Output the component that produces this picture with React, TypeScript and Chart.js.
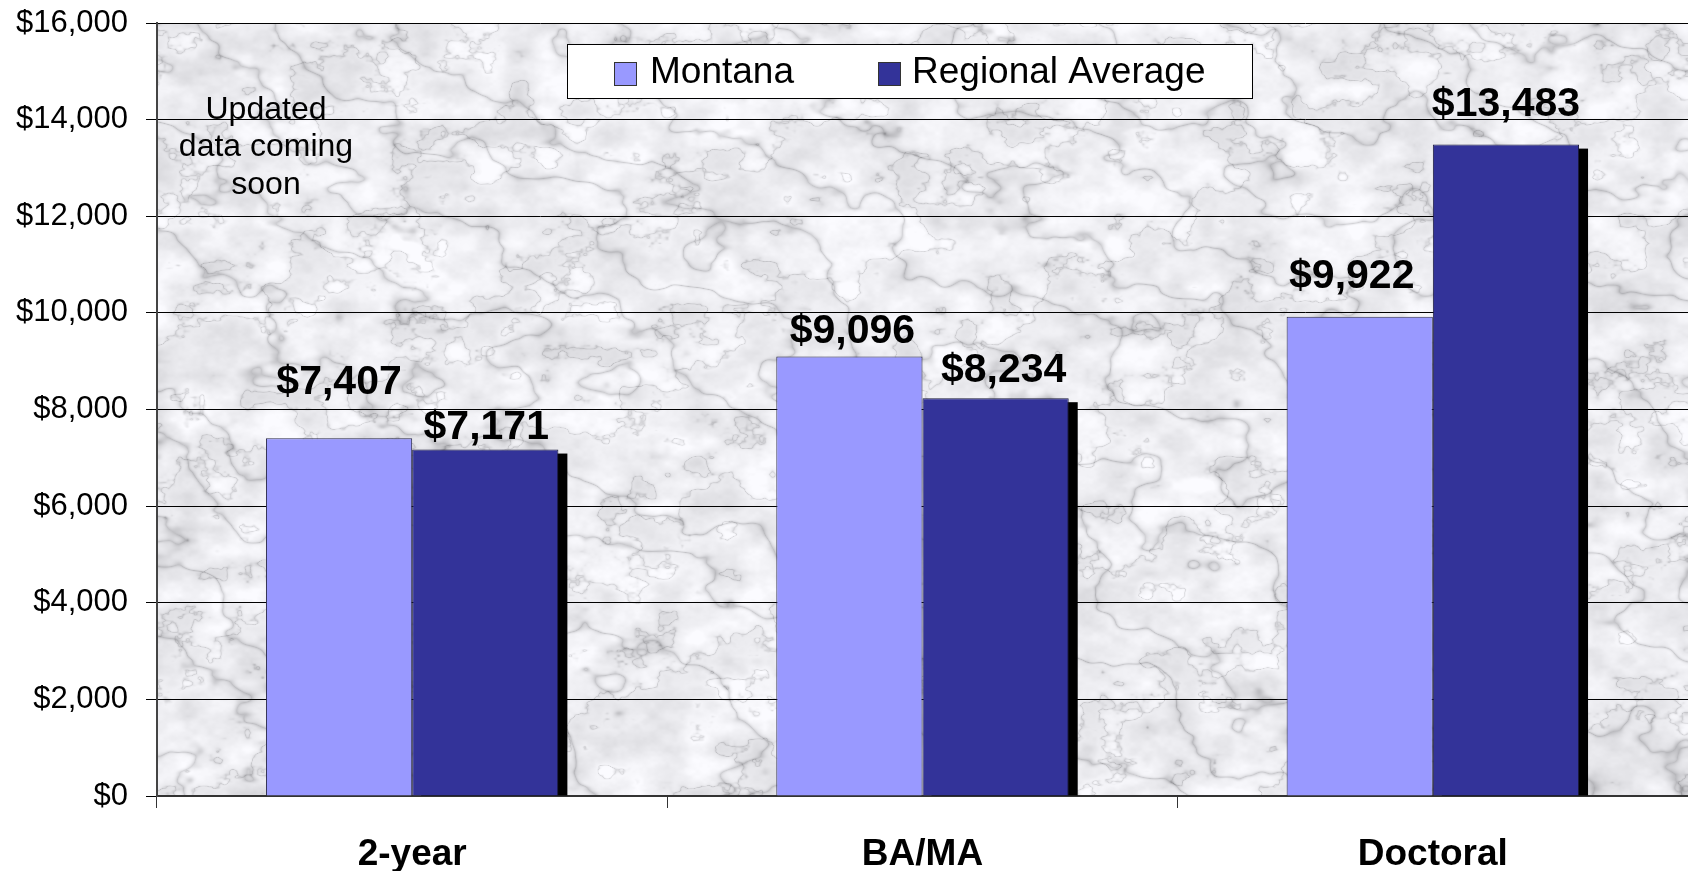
import React, { useEffect, useRef } from "react";
import { Chart, registerables } from "chart.js";

Chart.register(...registerables);

const categories = ["2-year", "BA/MA", "Doctoral"];
const seriesNames = ["Montana", "Regional Average"];
const montanaValues = [7407, 9096, 9922];
const regionalValues = [7171, 8234, 13483];
const yMax = 16000;
const yStep = 2000;
const noteLines = ["Updated", "data coming", "soon"];

// label placement (style only): gap above bar top and small horizontal nudge
const montanaLabelGap = [55, 25, 40];
const regionalLabelGap = [22, 28, 40];
const montanaLabelDx = [0, 3, -8];
const regionalLabelDx = [1, 8, 0];

const FONT = "'Liberation Sans', Arial, Helvetica, sans-serif";

function makeMarble(w: number, h: number): HTMLCanvasElement {
  const c = document.createElement("canvas");
  c.width = w;
  c.height = h;
  const ctx = c.getContext("2d")!;
  const img = ctx.createImageData(w, h);
  const N = 128;
  const lat = new Float32Array(N * N);
  for (let j = 0; j < N; j++)
    for (let i = 0; i < N; i++) {
      const s = Math.sin(i * 127.1 + j * 311.7) * 43758.5453;
      lat[j * N + i] = s - Math.floor(s);
    }
  const noise = (x: number, y: number) => {
    const xi = Math.floor(x), yi = Math.floor(y);
    const fx = x - xi, fy = y - yi;
    const ux = fx * fx * (3 - 2 * fx), uy = fy * fy * (3 - 2 * fy);
    const x0 = ((xi % N) + N) % N, y0 = ((yi % N) + N) % N;
    const x1 = (x0 + 1) % N, y1 = (y0 + 1) % N;
    const a = lat[y0 * N + x0], b = lat[y0 * N + x1];
    const cc = lat[y1 * N + x0], d = lat[y1 * N + x1];
    return a + (b - a) * ux + (cc - a) * uy + (a - b - cc + d) * ux * uy;
  };
  const fbm = (x: number, y: number) => {
    let v = 0, amp = 0.5, f = 1;
    for (let o = 0; o < 4; o++) {
      v += amp * noise(x * f, y * f);
      amp *= 0.5;
      f *= 2;
    }
    return v;
  };
  const d = img.data;
  for (let y = 0; y < h; y++) {
    for (let x = 0; x < w; x++) {
      const n = fbm(x / 90, y / 60);
      const n2 = fbm(x / 30 + 50, y / 22 + 20);
      const s1 = Math.abs(Math.sin(x * 0.02 - y * 0.03 + n * 8));
      const s2 = Math.abs(Math.sin(x * 0.012 + y * 0.02 + n2 * 6));
      const vein = Math.pow(1 - s1, 7) * 0.6 + Math.pow(1 - s2, 9) * 0.5;
      let g = 240 - (n2 - 0.45) * 55 - vein * 70;
      if (g > 252) g = 252;
      if (g < 140) g = 140;
      const k = (y * w + x) * 4;
      d[k] = g - 1;
      d[k + 1] = g - 1;
      d[k + 2] = g + 3 > 255 ? 255 : g + 3;
      d[k + 3] = 255;
    }
  }
  ctx.putImageData(img, 0, 0);
  return c;
}

const fmt = (v: number) => "$" + v.toLocaleString("en-US");

export default function App() {
  const ref = useRef<HTMLCanvasElement | null>(null);

  useEffect(() => {
    document.body.style.margin = "0";
    const canvas = ref.current!;
    let marble: HTMLCanvasElement | null = null;

    const backgroundPlugin = {
      id: "marbleBg",
      beforeDraw(chart: any) {
        const { ctx, chartArea: a } = chart;
        const w = Math.round(a.right - a.left);
        const h = Math.round(a.bottom - a.top);
        if (!marble || marble.width !== w || marble.height !== h) marble = makeMarble(w, h);
        ctx.save();
        ctx.fillStyle = "#ffffff";
        ctx.fillRect(0, 0, chart.width, chart.height);
        ctx.drawImage(marble, a.left, a.top);
        ctx.restore();
      },
    };

    const shadowPlugin = {
      id: "barShadow",
      beforeDatasetsDraw(chart: any) {
        const { ctx } = chart;
        const meta = chart.getDatasetMeta(1);
        ctx.save();
        ctx.fillStyle = "#000000";
        meta.data.forEach((bar: any) => {
          const w = bar.width;
          const left = bar.x - w / 2 + 9;
          const top = bar.y + 4;
          ctx.fillRect(left, top, w, bar.base - top);
        });
        ctx.restore();
      },
    };

    const labelPlugin = {
      id: "valueLabels",
      afterDatasetsDraw(chart: any) {
        const { ctx } = chart;
        ctx.save();
        ctx.font = `bold 41px ${FONT}`;
        ctx.fillStyle = "#000000";
        ctx.textAlign = "center";
        ctx.textBaseline = "middle";
        const gaps = [montanaLabelGap, regionalLabelGap];
        const dxs = [montanaLabelDx, regionalLabelDx];
        chart.data.datasets.forEach((ds: any, di: number) => {
          const meta = chart.getDatasetMeta(di);
          meta.data.forEach((bar: any, i: number) => {
            ctx.fillText(fmt(ds.data[i]), bar.x + dxs[di][i], bar.y - gaps[di][i]);
          });
        });
        ctx.restore();
      },
    };

    const legendPlugin = {
      id: "boxLegend",
      afterDraw(chart: any) {
        const { ctx } = chart;
        ctx.save();
        ctx.fillStyle = "#ffffff";
        ctx.fillRect(567, 44, 685, 54);
        ctx.strokeStyle = "#000000";
        ctx.lineWidth = 1;
        ctx.strokeRect(567.5, 44.5, 685, 54);
        const swatchX = [614, 878];
        const textX = [650, 912];
        ctx.font = `37px ${FONT}`;
        ctx.textBaseline = "middle";
        ctx.textAlign = "left";
        chart.data.datasets.forEach((ds: any, i: number) => {
          ctx.fillStyle = ds.backgroundColor;
          ctx.fillRect(swatchX[i], 62, 22, 23);
          ctx.strokeStyle = "#333333";
          ctx.strokeRect(swatchX[i] + 0.5, 62.5, 22, 23);
          ctx.fillStyle = "#000000";
          ctx.fillText(ds.label, textX[i], 73);
        });
        ctx.font = `32px ${FONT}`;
        ctx.textAlign = "center";
        noteLines.forEach((line, i) => {
          ctx.fillText(line, 266, 110 + i * 37.5);
        });
        ctx.restore();
      },
    };

    const chart = new Chart(canvas, {
      type: "bar",
      data: {
        labels: categories,
        datasets: [
          {
            label: seriesNames[0],
            data: montanaValues,
            backgroundColor: "#9999FF",
            borderColor: "#2a2a4a",
            borderWidth: 1,
            categoryPercentage: 0.573,
            barPercentage: 1.0,
          },
          {
            label: seriesNames[1],
            data: regionalValues,
            backgroundColor: "#333399",
            borderColor: "#1a1a3a",
            borderWidth: 1,
            categoryPercentage: 0.573,
            barPercentage: 1.0,
          },
        ],
      },
      options: {
        responsive: false,
        animation: false,
        layout: { padding: { top: 23, left: 0, right: 0, bottom: 0 } },
        plugins: {
          legend: { display: false },
          tooltip: { enabled: false },
          title: { display: false },
        },
        scales: {
          x: {
            grid: {
              drawOnChartArea: false,
              drawTicks: true,
              tickLength: 12,
              color: "#333333",
              offset: true,
            },
            border: { display: true, color: "#333333", width: 2 },
            ticks: {
              color: "#000000",
              font: { family: FONT, size: 37, weight: "bold" },
              padding: 25,
              maxRotation: 0,
            },
            afterFit(scale: any) {
              scale.height = 75;
              scale.paddingLeft = 0;
              scale.paddingRight = 0;
            },
          },
          y: {
            min: 0,
            max: yMax,
            grid: {
              color: "#000000",
              lineWidth: 1,
              tickLength: 11,
              drawTicks: true,
            },
            border: { display: true, color: "#444444", width: 2 },
            ticks: {
              stepSize: yStep,
              color: "#000000",
              font: { family: FONT, size: 31 },
              padding: 18,
              callback: (v: any) => fmt(Number(v)),
            },
            afterFit(scale: any) {
              scale.width = 157;
              scale.paddingTop = 0;
              scale.paddingBottom = 0;
            },
          },
        },
      },
      plugins: [backgroundPlugin, shadowPlugin, labelPlugin, legendPlugin],
    } as any);

    return () => chart.destroy();
  }, []);

  return (
    <div style={{ position: "absolute", left: 0, top: 0, width: 1688, height: 871 }}>
      <canvas ref={ref} width={1688} height={871} />
    </div>
  );
}
